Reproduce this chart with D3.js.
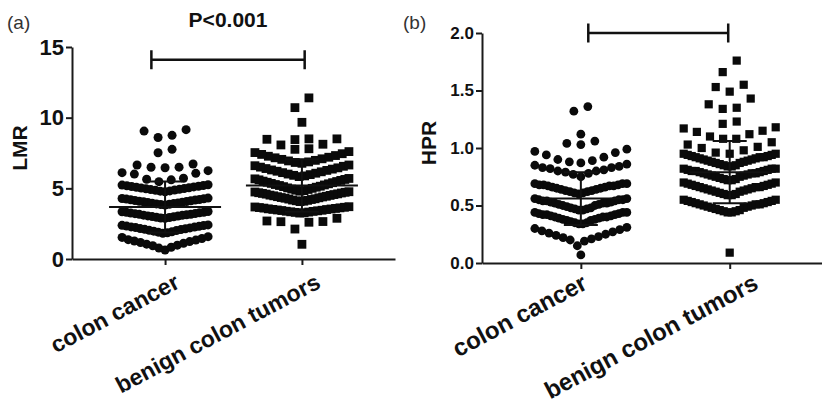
<!DOCTYPE html>
<html lang="en">
<head>
<meta charset="UTF-8">
<title>LMR and HPR dot plots</title>
<script src="https://d3js.org/d3.v7.min.js"></script>
<style>
  body { margin: 0; background: #fff; }
  svg { display: block; font-family: "Liberation Sans", Arial, sans-serif; }
  .axis path, .axis line { stroke: #1a1a1a; stroke-width: 2px; }
  .axis text { fill: #111; font-weight: bold; }
  .stat { stroke: #111; stroke-width: 2px; fill: none; }
  .bracket { stroke: #111; stroke-width: 2.5px; fill: none; }
</style>
</head>
<body>
<svg id="chart" width="822" height="405"></svg>
<script>
const groups = ["colon cancer", "benign colon tumors"];

// LMR values, one inner array per swarm row, bottom row first
const lmrCancer = [
  [0.64, 0.77, 0.83, 0.94, 0.98, 1.05, 1.11, 1.17, 1.23, 1.27, 1.34, 1.37, 1.45, 1.53, 1.58],
  [1.82, 1.85, 1.9, 1.92, 1.97, 2.01, 2.03, 2.08, 2.1, 2.14, 2.15, 2.2, 2.22, 2.26, 2.27, 2.31, 2.33, 2.37, 2.38, 2.41],
  [2.88, 2.9, 2.94, 2.95, 2.99, 3.0, 3.04, 3.05, 3.09, 3.1, 3.13, 3.16, 3.17, 3.21, 3.22, 3.25, 3.27, 3.3, 3.31, 3.34, 3.36],
  [3.82, 3.85, 3.87, 3.9, 3.92, 3.95, 3.97, 4.0, 4.02, 4.05, 4.07, 4.09, 4.12, 4.14, 4.17, 4.19, 4.21, 4.24, 4.26, 4.28, 4.31],
  [4.76, 4.8, 4.82, 4.86, 4.88, 4.91, 4.93, 4.97, 4.99, 5.02, 5.04, 5.08, 5.1, 5.13, 5.15, 5.18, 5.2, 5.23, 5.25],
  [5.47, 5.6, 5.64, 5.71, 6.01, 6.06, 6.11, 6.25],
  [6.46, 6.49, 6.5, 6.65, 6.72],
  [7.52, 7.76],
  [8.6, 8.75, 9.05, 9.15]
];
const lmrBenign = [
  [1.04],
  [2.12, 2.6, 2.64, 2.65, 2.69, 2.88],
  [3.25, 3.27, 3.3, 3.32, 3.34, 3.37, 3.38, 3.41, 3.43, 3.45, 3.47, 3.5, 3.51, 3.54, 3.55, 3.58, 3.6, 3.62, 3.64, 3.66, 3.68, 3.7],
  [4.06, 4.09, 4.12, 4.15, 4.17, 4.21, 4.24, 4.26, 4.3, 4.33, 4.35, 4.39, 4.41, 4.44, 4.47, 4.5, 4.52, 4.56, 4.59, 4.61, 4.64, 4.67, 4.69, 4.72, 4.74, 4.76],
  [4.8, 4.84, 4.87, 4.92, 4.95, 5.0, 5.03, 5.08, 5.12, 5.15, 5.2, 5.24, 5.27, 5.32, 5.35, 5.4, 5.43, 5.48, 5.51, 5.56, 5.6, 5.63, 5.67, 5.7],
  [5.83, 5.88, 5.92, 5.97, 6.01, 6.07, 6.11, 6.17, 6.21, 6.27, 6.3, 6.36, 6.4, 6.45, 6.5, 6.56, 6.6, 6.65],
  [6.77, 6.83, 6.87, 6.94, 6.98, 7.05, 7.09, 7.16, 7.2, 7.27, 7.32, 7.4, 7.45, 7.53, 7.6],
  [7.76, 7.8, 8.07, 8.12, 8.47, 8.5],
  [8.45, 8.5],
  [9.67],
  [10.71, 11.4]
];
const lmrMean = [3.68, 5.2];
const lmrSd = [1.8, 1.85];
const lmrTicks = [0, 5, 10, 15];

// HPR values, same layout
const hprCancer = [
  [0.07],
  [0.15, 0.19, 0.2, 0.21, 0.22, 0.23, 0.24, 0.25, 0.26, 0.27, 0.28, 0.29, 0.3, 0.31],
  [0.34, 0.34, 0.35, 0.35, 0.36, 0.37, 0.37, 0.38, 0.38, 0.39, 0.39, 0.4, 0.4, 0.4, 0.41, 0.41, 0.42, 0.42, 0.42, 0.43, 0.43, 0.44, 0.44, 0.44],
  [0.46, 0.46, 0.47, 0.47, 0.48, 0.48, 0.49, 0.5, 0.5, 0.51, 0.51, 0.52, 0.52, 0.52, 0.53, 0.53, 0.54, 0.54, 0.54, 0.55, 0.55, 0.55, 0.56, 0.56],
  [0.6, 0.61, 0.61, 0.62, 0.62, 0.63, 0.63, 0.64, 0.64, 0.65, 0.65, 0.66, 0.66, 0.67, 0.67, 0.67, 0.68, 0.68, 0.68, 0.69, 0.69, 0.69],
  [0.75, 0.77, 0.78, 0.79, 0.8, 0.8, 0.81, 0.82, 0.83, 0.83, 0.84, 0.85, 0.86],
  [0.87, 0.88, 0.89, 0.9, 0.92, 0.94, 0.96, 0.97, 0.99],
  [1.03, 1.04, 1.06],
  [1.12],
  [1.32, 1.36]
];
const hprBenign = [
  [0.09],
  [0.44, 0.44, 0.45, 0.45, 0.46, 0.46, 0.47, 0.48, 0.48, 0.49, 0.49, 0.5, 0.5, 0.51, 0.51, 0.51, 0.52, 0.52, 0.53, 0.53, 0.54, 0.54, 0.55, 0.55],
  [0.59, 0.59, 0.6, 0.6, 0.61, 0.62, 0.62, 0.63, 0.63, 0.64, 0.64, 0.65, 0.65, 0.66, 0.66, 0.66, 0.67, 0.67, 0.68, 0.68, 0.69, 0.69, 0.7, 0.7],
  [0.72, 0.72, 0.73, 0.73, 0.74, 0.75, 0.75, 0.76, 0.76, 0.77, 0.77, 0.78, 0.78, 0.78, 0.79, 0.79, 0.8, 0.8, 0.8, 0.81, 0.81, 0.82, 0.82, 0.82],
  [0.84, 0.84, 0.85, 0.85, 0.86, 0.87, 0.87, 0.88, 0.88, 0.89, 0.89, 0.9, 0.9, 0.91, 0.91, 0.92, 0.92, 0.92, 0.93, 0.93, 0.94, 0.94, 0.95, 0.95],
  [0.95, 0.96, 0.98, 1.0, 1.01, 1.03, 1.05],
  [1.08, 1.08, 1.1, 1.12, 1.14, 1.15, 1.17, 1.18],
  [1.21, 1.23],
  [1.34, 1.35, 1.38, 1.43],
  [1.49, 1.53, 1.55],
  [1.66, 1.76]
];
const hprMean = [0.56, 0.79];
const hprSd = [0.23, 0.27];
const hprTicks = [0, 0.5, 1.0, 1.5, 2.0];

const panels = [
  {
    tag: "(a)", tagX: 7, title: "LMR", titleX: 27,
    rows: [lmrCancer, lmrBenign], mean: lmrMean, sd: lmrSd,
    ticks: lmrTicks, fmt: d3.format("d"), yMax: 15,
    xDomain: [-0.68, 1.68], xRange: [72, 395], yRange: [259, 47],
    tickFont: 22, labelFont: 23, labelDx: [16, 20], labelDy: 28,
    half: [43, 47], meanHalf: 56, capHalf: 17,
    circleR: 4.5, square: 8.8,
    bracket: [-0.1, 1.02], bracketY: 14.1, pText: "P<0.001"
  },
  {
    tag: "(b)", tagX: 403, title: "HPR", titleX: 436,
    rows: [hprCancer, hprBenign], mean: hprMean, sd: hprSd,
    ticks: hprTicks, fmt: d3.format(".1f"), yMax: 2,
    xDomain: [-0.664, 1.62], xRange: [482, 822], yRange: [263, 33],
    tickFont: 17, labelFont: 24, labelDx: [8, 30], labelDy: 25,
    half: [46, 46], meanHalf: 40, capHalf: 17,
    circleR: 4.4, square: 8.2,
    bracket: [0.05, 0.99], bracketY: 2.0, pText: null
  }
];

const svg = d3.select("#chart");

// Prism-like column scatter: each row sorted, lowest value in the middle,
// then alternating left / right so the rows form chevrons
function swarm(rows, half) {
  const pts = [];
  rows.forEach(row => {
    const vals = row.slice().sort(d3.ascending);
    const n = vals.length;
    const s = n > 1 ? Math.min(14, 2 * half / (n - 1)) : 0;
    vals.forEach((v, i) => {
      let off;
      if (n % 2) {
        off = (i % 2 ? -1 : 1) * Math.ceil(i / 2) * s;
      } else {
        off = (i % 2 ? 1 : -1) * (Math.floor(i / 2) + 0.5) * s;
      }
      pts.push({ v, off });
    });
  });
  return pts;
}

panels.forEach(p => {
  const x = d3.scaleLinear().domain(p.xDomain).range(p.xRange);
  const y = d3.scaleLinear().domain([0, p.yMax]).range(p.yRange);
  const g = svg.append("g");

  // axes
  g.append("g")
    .attr("class", "axis")
    .attr("transform", `translate(${p.xRange[0]},0)`)
    .call(d3.axisLeft(y).tickValues(p.ticks).tickFormat(p.fmt).tickSize(6).tickSizeOuter(0).tickPadding(2))
    .call(a => a.selectAll("text").style("font-size", p.tickFont + "px"));

  g.append("g")
    .attr("class", "axis")
    .attr("transform", `translate(0,${y(0)})`)
    .call(d3.axisBottom(x).tickValues([0, 1]).tickFormat("").tickSize(6).tickSizeOuter(0));

  // category labels
  groups.forEach((name, i) => {
    g.append("text")
      .attr("transform", `translate(${x(i) + p.labelDx[i]},${y(0) + p.labelDy}) rotate(-28)`)
      .attr("text-anchor", "end")
      .style("font-size", p.labelFont + "px")
      .style("font-weight", "bold")
      .style("fill", "#111")
      .text(name);
  });

  // points
  p.rows.forEach((rows, i) => {
    const pts = swarm(rows, p.half[i]);
    if (i === 0) {
      g.append("g").selectAll("circle").data(pts).join("circle")
        .attr("cx", d => x(i) + d.off)
        .attr("cy", d => y(d.v))
        .attr("r", p.circleR)
        .attr("fill", "#0a0a0a");
    } else {
      g.append("g").selectAll("rect").data(pts).join("rect")
        .attr("x", d => x(i) + d.off - p.square / 2)
        .attr("y", d => y(d.v) - p.square / 2)
        .attr("width", p.square)
        .attr("height", p.square)
        .attr("fill", "#0a0a0a");
    }
  });

  // mean and SD
  p.mean.forEach((m, i) => {
    const cx = x(i);
    const lo = y(m - p.sd[i]), hi = y(m + p.sd[i]);
    const path = d3.path();
    path.moveTo(cx - p.meanHalf, y(m)); path.lineTo(cx + p.meanHalf, y(m));
    path.moveTo(cx, lo); path.lineTo(cx, hi);
    path.moveTo(cx - p.capHalf, hi); path.lineTo(cx + p.capHalf, hi);
    path.moveTo(cx - p.capHalf, lo); path.lineTo(cx + p.capHalf, lo);
    g.append("path").attr("class", "stat").attr("d", path.toString());
  });

  // significance bracket
  const by = y(p.bracketY);
  const bp = d3.path();
  bp.moveTo(x(p.bracket[0]), by); bp.lineTo(x(p.bracket[1]), by);
  bp.moveTo(x(p.bracket[0]), by - 9.5); bp.lineTo(x(p.bracket[0]), by + 9.5);
  bp.moveTo(x(p.bracket[1]), by - 9.5); bp.lineTo(x(p.bracket[1]), by + 9.5);
  g.append("path").attr("class", "bracket").attr("d", bp.toString());

  if (p.pText) {
    g.append("text")
      .attr("x", x((p.bracket[0] + p.bracket[1]) / 2))
      .attr("y", 27)
      .attr("text-anchor", "middle")
      .style("font-size", "21px")
      .style("font-weight", "bold")
      .style("fill", "#111")
      .text(p.pText);
  }

  // axis title and panel tag
  g.append("text")
    .attr("transform", `translate(${p.titleX},${(p.yRange[0] + p.yRange[1]) / 2 - 5}) rotate(-90)`)
    .attr("text-anchor", "middle")
    .style("font-size", "21px")
    .style("font-weight", "bold")
    .style("fill", "#111")
    .text(p.title);

  g.append("text")
    .attr("x", p.tagX)
    .attr("y", 29)
    .style("font-size", "19px")
    .style("fill", "#333")
    .text(p.tag);
});
</script>
</body>
</html>
